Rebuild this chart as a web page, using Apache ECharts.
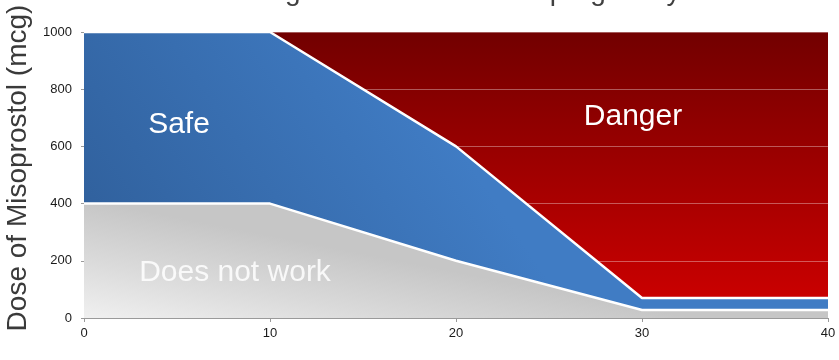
<!DOCTYPE html>
<html>
<head>
<meta charset="utf-8">
<script src="https://cdn.jsdelivr.net/npm/echarts@6/dist/echarts.min.js"></script>
<style>html,body{margin:0;padding:0;background:#fff;}#c{width:839px;height:360px;}</style>
</head>
<body>
<div id="c"></div>
<script>
var weeks = [0, 10, 20, 30, 40];
var dangerTop = [1000, 1000, 1000, 1000, 1000];
var safeTop = [1000, 1000, 600, 70, 70];
var noWorkTop = [400, 400, 200, 28, 28];
var yTicks = [0, 200, 400, 600, 800, 1000];
var gridValues = [200, 400, 600, 800, 1000];
var titleText = 'Dosing based on weeks of pregnancy';
var yTitle = 'Dose of Misoprostol (mcg)';
var labels = { safe: 'Safe', danger: 'Danger', noWork: 'Does not work' };

function pairs(ys) { return weeks.map(function (w, i) { return [w, ys[i]]; }); }

var chart = echarts.init(document.getElementById('c'), null, { renderer: 'canvas' });
var FONT = 'Liberation Sans, Arial, sans-serif';
chart.setOption({
  animation: false,
  grid: { left: 84, right: 11, top: 32, bottom: 42 },
  xAxis: {
    type: 'value', min: 0, max: 40, interval: 10,
    axisLine: { show: true, lineStyle: { color: '#9a9a9a', width: 1 } },
    axisTick: { show: true, length: 4, lineStyle: { color: '#9a9a9a' } },
    axisLabel: { color: '#1a1a1a', fontSize: 13, fontFamily: FONT, margin: 9 },
    splitLine: { show: false }
  },
  yAxis: {
    type: 'value', min: 0, max: 1000, interval: 200,
    axisLine: { show: true, lineStyle: { color: '#9a9a9a', width: 1 } },
    axisTick: { show: true, length: 3, lineStyle: { color: '#9a9a9a' } },
    axisLabel: { color: '#1a1a1a', fontSize: 13, fontFamily: FONT, margin: 12,
      formatter: function (v) { return yTicks.indexOf(v) >= 0 ? String(v) : ''; } },
    splitLine: { show: false }
  },
  series: [
    {
      name: 'Danger', type: 'line', z: 1, data: pairs(dangerTop), symbol: 'none',
      lineStyle: { width: 0 },
      areaStyle: { opacity: 1, color: new echarts.graphic.LinearGradient(0, 0, 0, 1, [
        { offset: 0, color: '#720000' }, { offset: 1, color: '#d00000' }]) },
      markLine: {
        z: 2, silent: true, symbol: 'none', label: { show: false },
        lineStyle: { color: 'rgba(255,255,255,0.35)', width: 1, type: 'solid' },
        data: gridValues.map(function (v) { return { yAxis: v }; })
      }
    },
    {
      name: 'Safe', type: 'line', z: 3, data: pairs(safeTop), symbol: 'none',
      lineStyle: { color: '#ffffff', width: 2.5 },
      areaStyle: { opacity: 1, color: new echarts.graphic.LinearGradient(0, 0.7, 0.4, 0, [
        { offset: 0, color: '#30609c' }, { offset: 1, color: '#407cc4' }]) }
    },
    {
      name: 'Does not work', type: 'line', z: 4, data: pairs(noWorkTop), symbol: 'none',
      lineStyle: { color: '#ffffff', width: 2.5 },
      areaStyle: { opacity: 1, color: new echarts.graphic.LinearGradient(0, 1, 0.03, 0, [
        { offset: 0, color: '#f0f0f0' }, { offset: 0.5, color: '#dadada' }, { offset: 1, color: '#c6c6c6' }]) }
    }
  ],
  graphic: [
    { type: 'text', x: 447, y: -8, z: 10, style: { text: titleText, fill: '#404040', font: '28px ' + FONT, align: 'center', verticalAlign: 'middle' } },
    { type: 'text', x: 18, y: 168, rotation: Math.PI / 2, z: 10, style: { text: yTitle, fill: '#3a3a3a', font: '28px ' + FONT, align: 'center', verticalAlign: 'middle' } },
    { type: 'text', x: 179, y: 125, z: 10, style: { text: labels.safe, fill: '#ffffff', font: '30px ' + FONT, align: 'center', verticalAlign: 'middle' } },
    { type: 'text', x: 633, y: 117, z: 10, style: { text: labels.danger, fill: '#ffffff', font: '30px ' + FONT, align: 'center', verticalAlign: 'middle' } },
    { type: 'text', x: 235, y: 273, z: 10, style: { text: labels.noWork, fill: 'rgba(255,255,255,0.85)', font: '30px ' + FONT, align: 'center', verticalAlign: 'middle' } }
  ]
});
</script>
</body>
</html>
